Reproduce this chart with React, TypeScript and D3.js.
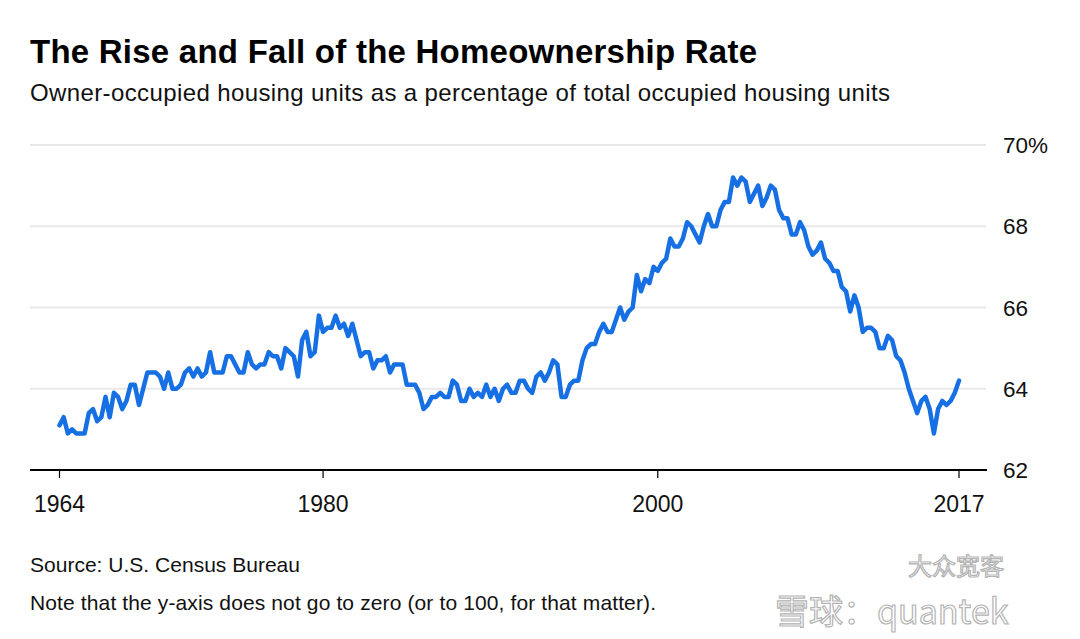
import React from "react";
import * as d3 from "d3";

// Quarterly homeownership rate (%), 1964 Q1 – 2017 Q4
const rates1960s = [
  63.1, 63.3, 62.9, 63.0, 62.9, 62.9, 62.9, 63.4, 63.5, 63.2, 63.3, 63.8,
  63.3, 63.9, 63.8, 63.5, 63.7, 64.1, 64.1, 63.6, 64.0, 64.4, 64.4, 64.4,
];
const rates1970s = [
  64.3, 64.0, 64.4, 64.0, 64.0, 64.1, 64.4, 64.5, 64.3, 64.5, 64.3, 64.4,
  64.9, 64.4, 64.4, 64.4, 64.8, 64.8, 64.6, 64.4, 64.4, 64.9, 64.6, 64.5,
  64.6, 64.6, 64.9, 64.8, 64.8, 64.5, 65.0, 64.9, 64.8, 64.3, 65.2, 65.4,
  64.8, 64.9, 65.8, 65.4,
];
const rates1980s = [
  65.5, 65.5, 65.8, 65.5, 65.6, 65.3, 65.6, 65.2, 64.8, 64.9, 64.9, 64.5,
  64.7, 64.7, 64.8, 64.4, 64.6, 64.6, 64.6, 64.1, 64.1, 64.1, 63.9, 63.5,
  63.6, 63.8, 63.8, 63.9, 63.8, 63.8, 64.2, 64.1, 63.7, 63.7, 64.0, 63.8,
  63.9, 63.8, 64.1, 63.8,
];
const rates1990s = [
  64.0, 63.7, 64.0, 64.1, 63.9, 63.9, 64.2, 64.2, 64.0, 63.9, 64.3, 64.4,
  64.2, 64.4, 64.7, 64.6, 63.8, 63.8, 64.1, 64.2, 64.2, 64.7, 65.0, 65.1,
  65.1, 65.4, 65.6, 65.4, 65.4, 65.7, 66.0, 65.7, 65.9, 66.0, 66.8, 66.4,
  66.7, 66.6, 67.0, 66.9,
];
const rates2000s = [
  67.1, 67.2, 67.7, 67.5, 67.5, 67.7, 68.1, 68.0, 67.8, 67.6, 68.0, 68.3,
  68.0, 68.0, 68.4, 68.6, 68.6, 69.2, 69.0, 69.2, 69.1, 68.6, 68.8, 69.0,
  68.5, 68.7, 69.0, 68.9, 68.4, 68.2, 68.2, 67.8, 67.8, 68.1, 67.9, 67.5,
  67.3, 67.4, 67.6, 67.2,
];
const rates2010s = [
  67.1, 66.9, 66.9, 66.5, 66.4, 65.9, 66.3, 66.0, 65.4, 65.5, 65.5, 65.4,
  65.0, 65.0, 65.3, 65.2, 64.8, 64.7, 64.4, 64.0, 63.7, 63.4, 63.7, 63.8,
  63.5, 62.9, 63.5, 63.7, 63.6, 63.7, 63.9, 64.2,
];

const firstYear = 1964;
const xTickYears = [1980, 2000];
const xTickLabels = ["1964", "1980", "2000", "2017"];
const yTicks = [62, 64, 66, 68, 70];

const title = "The Rise and Fall of the Homeownership Rate";
const subtitle =
  "Owner-occupied housing units as a percentage of total occupied housing units";
const source = "Source: U.S. Census Bureau";
const note =
  "Note that the y-axis does not go to zero (or to 100, for that matter).";

const W = 1080;
const H = 639;
const FONT = "'Liberation Sans', Arial, Helvetica, sans-serif";

export default function App() {
  const values = [
    ...rates1960s,
    ...rates1970s,
    ...rates1980s,
    ...rates1990s,
    ...rates2000s,
    ...rates2010s,
  ];
  // each quarter plotted at quarter end
  const data = values.map((v, i) => ({ t: firstYear + (i + 1) / 4, v }));
  const t0 = data[0].t;
  const t1 = data[data.length - 1].t;

  const x = d3.scaleLinear().domain([t0, t1]).range([59.5, 959]);
  const y = d3.scaleLinear().domain([62, 70]).range([470, 145]);

  const line = d3
    .line<{ t: number; v: number }>()
    .x((d) => x(d.t))
    .y((d) => y(d.v));

  const xTicks = [t0, ...xTickYears, t1];

  return (
    <svg
      width={W}
      height={H}
      style={{ position: "absolute", left: 0, top: 0, background: "#fff" }}
      fontFamily={FONT}
    >
      <rect width={W} height={H} fill="#fff" />
      <text
        x={30}
        y={63}
        fontSize={33}
        fontWeight={700}
        fill="#000"
        textLength={727}
        lengthAdjust="spacing"
      >
        {title}
      </text>
      <text
        x={30}
        y={101}
        fontSize={24}
        fill="#111"
        textLength={860}
        lengthAdjust="spacing"
      >
        {subtitle}
      </text>

      {/* gridlines */}
      {yTicks.slice(1).map((t) => (
        <line
          key={t}
          x1={30}
          x2={986}
          y1={y(t)}
          y2={y(t)}
          stroke="#e8e8e8"
          strokeWidth={2}
        />
      ))}
      {/* baseline axis */}
      <line
        x1={30}
        x2={987}
        y1={y(62)}
        y2={y(62)}
        stroke="#000"
        strokeWidth={2}
      />
      {/* y labels */}
      {yTicks.map((t) => (
        <text
          key={t}
          x={1003}
          y={y(t)}
          dy="0.36em"
          fontSize={22.5}
          fill="#111"
        >
          {t === 70 ? `${t}%` : `${t}`}
        </text>
      ))}

      {/* x ticks */}
      {xTicks.map((t, i) => (
        <g key={i} transform={`translate(${x(t)},0)`}>
          <line y1={y(62)} y2={y(62) + 8} stroke="#000" strokeWidth={1.2} />
          <text y={512} textAnchor="middle" fontSize={23} fill="#111">
            {xTickLabels[i]}
          </text>
        </g>
      ))}

      {/* data line */}
      <path
        d={line(data) || ""}
        fill="none"
        stroke="#1670e4"
        strokeWidth={4.5}
        strokeLinejoin="round"
        strokeLinecap="round"
      />

      {/* footnotes */}
      <text x={30} y={572} fontSize={21} fill="#111" textLength={270} lengthAdjust="spacing">
        {source}
      </text>
      <text x={30} y={610} fontSize={21} fill="#111" textLength={626} lengthAdjust="spacing">
        {note}
      </text>

      {/* watermark */}
      <g opacity={0.75}>
        <text
          x={908}
          y={575}
          fontSize={24}
          fontFamily="'Noto Sans CJK SC', sans-serif"
          fill="#fff"
          stroke="#9a9a9a"
          strokeWidth={1.2}
        >
          大众宽客
        </text>
        <text
          x={775}
          y={624}
          fontSize={34}
          fontFamily="'Noto Sans CJK SC', sans-serif"
          fill="#fff"
          stroke="#9a9a9a"
          strokeWidth={1.2}
        >
          雪球：quantek
        </text>
      </g>
    </svg>
  );
}
